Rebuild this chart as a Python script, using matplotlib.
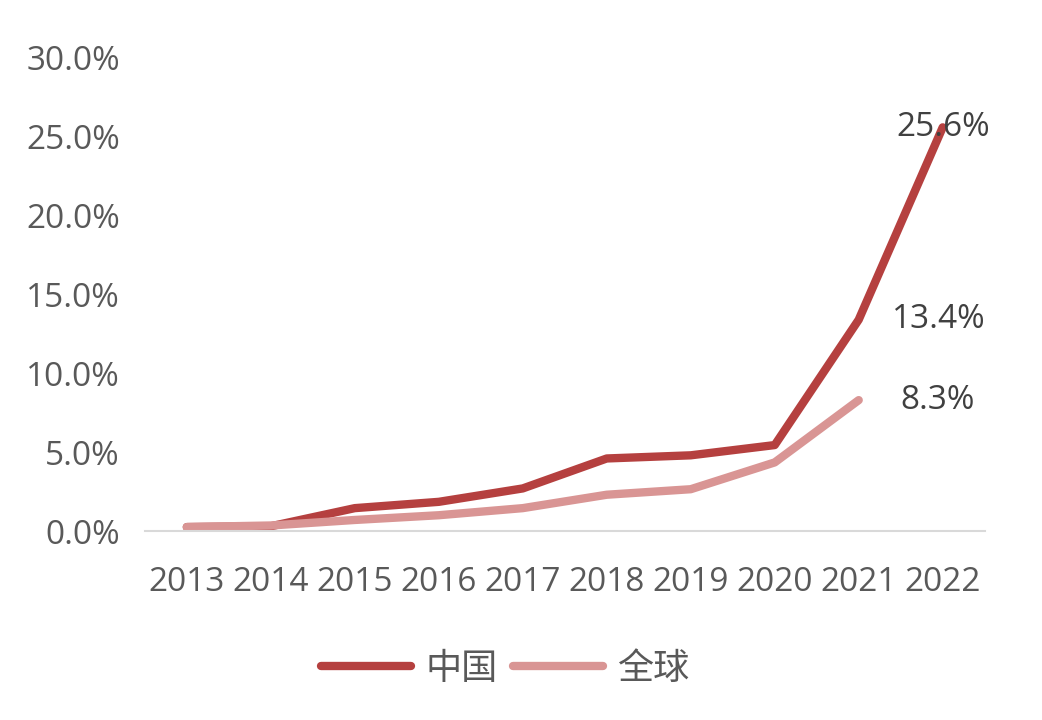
import matplotlib.pyplot as plt
from matplotlib.ticker import PercentFormatter

plt.rcParams['font.family'] = ['Open Sans', 'Noto Sans CJK SC', 'DejaVu Sans']

years = ['2013', '2014', '2015', '2016', '2017', '2018', '2019', '2020', '2021', '2022']
china = [0.25, 0.3, 1.45, 1.85, 2.7, 4.6, 4.8, 5.45, 13.4, 25.6]
world = [0.25, 0.35, 0.7, 1.0, 1.45, 2.3, 2.65, 4.35, 8.3]

c_china = '#b5403f'
c_world = '#d99594'
grey = '#595959'

fig = plt.figure(figsize=(10.42, 7.2), dpi=100)
ax = fig.add_axes([0.139, 0.2625, 0.806, 0.657])

x = list(range(len(years)))
ax.plot(x, china, color=c_china, lw=6, solid_capstyle='round', solid_joinstyle='round', label='中国')
ax.plot(x[:len(world)], world, color=c_world, lw=6, solid_capstyle='round', solid_joinstyle='round', label='全球')

# labels at the end points
ax.annotate('25.6%', (x[9], china[9]), xytext=(0, 0), textcoords='offset points',
            ha='center', va='center', fontsize=24, color='#404040')
ax.annotate('13.4%', (x[8], china[8]), xytext=(24, 0), textcoords='offset points',
            ha='left', va='center', fontsize=24, color='#404040')
ax.annotate('8.3%', (x[8], world[8]), xytext=(30, 0), textcoords='offset points',
            ha='left', va='center', fontsize=24, color='#404040')

ax.set_xlim(-0.5, len(years) - 0.5)
ax.set_ylim(0, 30)
ax.set_yticks([0, 5, 10, 15, 20, 25, 30])
ax.yaxis.set_major_formatter(PercentFormatter(decimals=1))
ax.set_xticks(x)
ax.set_xticklabels(years)

for s in ['top', 'right', 'left']:
    ax.spines[s].set_visible(False)
ax.spines['bottom'].set_color('#d9d9d9')
ax.spines['bottom'].set_linewidth(1.5)
ax.tick_params(axis='both', length=0, labelsize=24, labelcolor=grey)
ax.tick_params(axis='y', pad=18)
ax.tick_params(axis='x', pad=25)

fig.legend(loc='center', bbox_to_anchor=(0.485, 0.07), ncol=2, frameon=False,
           fontsize=26, handlelength=2.5, columnspacing=0.4, handletextpad=0.4,
           labelcolor=grey)

fig.savefig('out.png', dpi=100)
